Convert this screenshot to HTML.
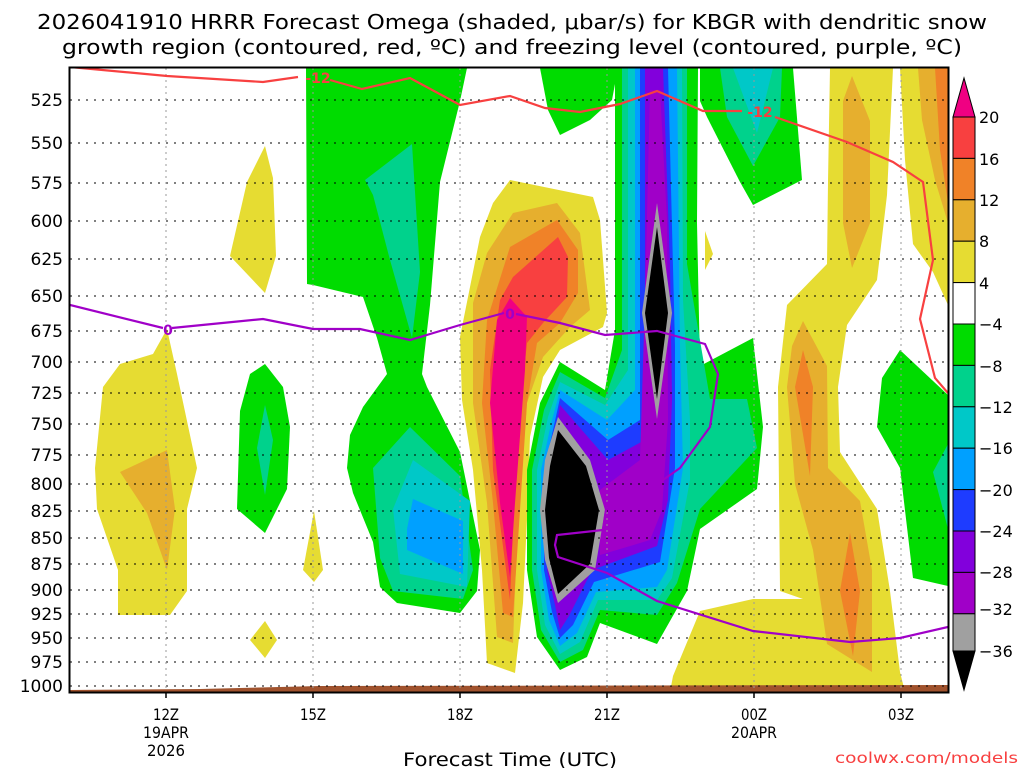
<!DOCTYPE html>
<html><head><meta charset="utf-8"><style>
html,body{margin:0;padding:0;background:#fff;width:1024px;height:768px;overflow:hidden}
svg{display:block}
text{font-family:"DejaVu Sans","Liberation Sans",sans-serif;fill:#000}
</style></head><body>
<svg width="1024" height="768" viewBox="0 0 1024 768" xmlns="http://www.w3.org/2000/svg">
<rect width="1024" height="768" fill="#fff"/>
<text x="512" y="29" font-size="20" text-anchor="middle" textLength="950" lengthAdjust="spacingAndGlyphs">2026041910 HRRR Forecast Omega (shaded, μbar/s) for KBGR with dendritic snow</text>
<text x="512" y="54" font-size="20" text-anchor="middle" textLength="900" lengthAdjust="spacingAndGlyphs">growth region (contoured, red, ºC) and freezing level (contoured, purple, ºC)</text>
<defs><clipPath id="pc"><rect x="70" y="68" width="878" height="624"/></clipPath></defs>
<g clip-path="url(#pc)" stroke-linejoin="round">
<!-- left yellow -->
<polygon fill="#e6dc32" points="95,468 103,387 120,364 153,354 167,329 177,374 197,468 187,509 187,591 170,615 118,615 118,570 97,509"/>
<polygon fill="#e6af2e" points="120,472 167,450 175,509 167,570 147,513"/>
<polygon fill="#e6dc32" points="265,146 273,178 276,256 265,293 230,256 247,182"/>
<polygon fill="#00dc00" points="265,364 283,387 290,427 287,489 265,533 237,509 240,411 250,374"/>
<polygon fill="#00d28c" points="265,405 273,440 265,495 257,448"/>
<polygon fill="#e6dc32" points="314,511 323,570 314,582 303,570"/>
<polygon fill="#e6dc32" points="265,621 277,640 265,658 250,640"/>
<!-- left green region -->
<polygon fill="#00dc00" points="306,68 467,68 460,101 440,182 430,305 422,374 427,387 460,452 480,550 477,591 460,613 397,603 380,587 373,542 353,493 347,468 350,435 363,407 387,374 377,338 363,297 313,285 307,284"/>
<polygon fill="#00d28c" points="365,180 412,144 420,272 412,338 390,260 373,195"/>
<polygon fill="#00d28c" points="373,468 410,427 460,476 473,570 463,599 393,591 380,558"/>
<polygon fill="#00c8c8" points="393,509 413,460 470,501 467,587 400,574"/>
<polygon fill="#00a0ff" points="407,529 413,499 463,521 463,574 407,550"/>
<!-- positive blob -->
<polygon fill="#e6dc32" points="510,180 593,197 600,220 607,313 603,327 560,350 543,377 530,437 527,520 523,603 515,673 487,663 482,570 473,470 462,400 460,337 480,237 493,203"/>
<polygon fill="#e6af2e" points="513,213 557,203 580,233 590,310 570,327 543,357 527,403 517,537 513,643 497,637 487,503 473,403 473,303 487,253"/>
<polygon fill="#f08228" points="510,247 557,220 578,250 578,293 560,323 537,343 527,403 513,617 503,613 493,503 482,403 487,320"/>
<polygon fill="#f84040" points="513,277 558,237 568,257 567,297 543,323 527,343 517,437 510,600 493,470 490,370 500,300"/>
<polygon fill="#f00082" points="510,298 527,317 525,370 515,503 510,577 500,503 490,403 497,320"/>
<!-- top green blob -->
<polygon fill="#00dc00" points="540,68 618,68 612,100 590,120 560,135 548,110"/>
<!-- green right of column -->
<polygon fill="#00dc00" points="700,68 793,68 802,180 753,205 740,182 707,117 700,101"/>
<polygon fill="#00d28c" points="720,68 782,68 780,117 753,166 727,117"/>
<polygon fill="#00c8c8" points="733,68 773,68 757,133"/>
<polygon fill="#e6dc32" points="705,231 713,254 705,270"/>
<!-- right yellow band -->
<polygon fill="#e6dc32" points="830,68 893,68 887,195 877,280 847,325 838,387 840,452 877,509 890,591 900,672 905,692 670,692 673,676 700,611 753,599 803,599 780,591 778,387 787,305 827,264 828,182"/>
<polygon fill="#e6af2e" points="852,76 870,121 870,223 852,268 843,223 843,101"/>
<polygon fill="#e6af2e" points="803,321 827,366 828,468 860,501 872,570 872,672 827,644 813,550 795,484 787,387 792,346"/>
<polygon fill="#f08228" points="803,350 813,387 810,476 795,387"/>
<polygon fill="#f08228" points="850,533 860,591 853,656 840,591"/>
<polygon fill="#e6dc32" points="900,68 948,68 948,305 933,272 913,244 905,160"/>
<polygon fill="#e6af2e" points="918,68 948,68 948,223 935,180 922,120"/>
<polygon fill="#f08228" points="935,68 948,68 948,203 940,150"/>
<polygon fill="#00dc00" points="900,350 948,395 948,586 913,578 900,468 877,427 882,378"/>
<polygon fill="#00d28c" points="948,444 933,472 948,529"/>
<!-- column + lower lens -->
<polygon fill="#00dc00" points="615,68 698,68 697,223 700,366 753,338 763,427 757,489 700,529 687,591 657,644 600,623 587,657 560,670 537,637 527,570 527,470 540,403 560,362 605,390 615,330"/>
<polygon fill="#00d28c" points="622,68 687,68 687,264 710,399 747,399 757,448 700,509 677,583 657,615 600,610 583,650 560,662 541,630 532,570 532,470 544,410 560,372 605,398 622,350"/>
<polygon fill="#00c8c8" points="628,68 682,68 683,300 690,420 690,480 672,578 657,600 598,600 580,642 560,654 545,625 537,570 537,470 548,417 560,382 605,405 628,370"/>
<polygon fill="#00a0ff" points="635,68 677,68 680,346 683,468 667,570 657,587 596,592 577,633 560,646 549,620 541,570 541,470 551,424 560,390 607,420 635,390"/>
<polygon fill="#1e3cff" points="640,68 668,68 675,346 675,468 660,562 594,582 573,625 560,638 552,612 544,570 544,470 553,430 560,398 608,440 640,420"/>
<polygon fill="#8200dc" points="645,68 663,68 670,264 672,400 668,500 657,546 592,570 569,616 560,630 555,605 547,570 547,470 555,436 560,405 608,460 645,440"/>
<polygon fill="#a000c8" points="650,90 660,90 667,220 668,420 662,510 650,540 600,555 600,490 640,460 645,300"/>
<polygon fill="#a0a0a0" points="657,203 672,313 657,419 642,313"/>
<polygon fill="#000" points="657,227 668,313 657,399 645,313"/>
<polygon fill="#a0a0a0" points="558,417 590,460 605,510 595,570 558,603 545,560 540,510 545,460"/>
<polygon fill="#000" points="558,430 586,466 599,510 590,564 558,594 549,558 545,510 550,466"/>
<!-- ground -->
<polygon fill="#a0522d" points="70,690 200,689 320,686 948,685 948,693 70,693"/>
</g>
<!-- grid -->
<g stroke="#000" stroke-width="1" stroke-dasharray="2,6">
<line x1="70" x2="948" y1="100" y2="100"/><line x1="70" x2="948" y1="143" y2="143"/><line x1="70" x2="948" y1="183" y2="183"/><line x1="70" x2="948" y1="221" y2="221"/><line x1="70" x2="948" y1="259" y2="259"/><line x1="70" x2="948" y1="296" y2="296"/><line x1="70" x2="948" y1="331" y2="331"/><line x1="70" x2="948" y1="362" y2="362"/><line x1="70" x2="948" y1="393" y2="393"/><line x1="70" x2="948" y1="424" y2="424"/><line x1="70" x2="948" y1="455" y2="455"/><line x1="70" x2="948" y1="484" y2="484"/><line x1="70" x2="948" y1="511" y2="511"/><line x1="70" x2="948" y1="538" y2="538"/><line x1="70" x2="948" y1="564" y2="564"/><line x1="70" x2="948" y1="590" y2="590"/><line x1="70" x2="948" y1="614" y2="614"/><line x1="70" x2="948" y1="638" y2="638"/><line x1="70" x2="948" y1="662" y2="662"/><line x1="70" x2="948" y1="686" y2="686"/>
</g>
<g stroke="#999" stroke-width="1" stroke-dasharray="2,4">
<line x1="166" x2="166" y1="68" y2="692"/><line x1="313" x2="313" y1="68" y2="692"/><line x1="460" x2="460" y1="68" y2="692"/><line x1="607" x2="607" y1="68" y2="692"/><line x1="754" x2="754" y1="68" y2="692"/><line x1="901" x2="901" y1="68" y2="692"/>
</g>
<!-- contour lines -->
<g fill="none" stroke-width="2.2" clip-path="url(#pc)">
<polyline stroke="#f84040" points="70,67 167,76 263,82 298,77"/>
<polyline stroke="#f84040" points="330,80 362,89 410,78 460,105 510,96 545,108 580,112 620,104 657,91 703,111 742,111"/>
<polyline stroke="#f84040" points="775,117 847,142 893,162 923,182 933,260 920,319 935,378 948,393"/>
<polyline stroke="#a000c8" points="70,305 163,328"/>
<polyline stroke="#a000c8" points="172,328 263,319 313,329 360,329 410,340 460,325 504,313"/>
<polyline stroke="#a000c8" points="516,314 560,323 605,335 657,331 705,344 718,374 710,427 680,468 660,482 607,503 603,530 557,535 555,545 558,557 607,573 657,601 753,631 850,642 900,638 948,627"/>
</g>
<text x="318" y="83" font-size="14" font-weight="bold" fill="#f84040" style="fill:#f84040" text-anchor="middle">-12</text>
<text x="760" y="117" font-size="14" font-weight="bold" style="fill:#f84040" text-anchor="middle">-12</text>
<text x="168" y="335" font-size="14" font-weight="bold" style="fill:#a000c8" text-anchor="middle">0</text>
<text x="510" y="319" font-size="14" font-weight="bold" style="fill:#a000c8" text-anchor="middle">0</text>
<!-- frame -->
<rect x="69.5" y="67.5" width="879" height="625" fill="none" stroke="#000" stroke-width="2"/>
<g stroke="#000" stroke-width="1.5">
<line x1="166" x2="166" y1="692" y2="698"/><line x1="313" x2="313" y1="692" y2="698"/><line x1="460" x2="460" y1="692" y2="698"/><line x1="607" x2="607" y1="692" y2="698"/><line x1="754" x2="754" y1="692" y2="698"/><line x1="901" x2="901" y1="692" y2="698"/>
</g>
<!-- y labels -->
<g font-size="17" text-anchor="end">
<text x="63" y="106">525</text><text x="63" y="149">550</text><text x="63" y="189">575</text><text x="63" y="227">600</text><text x="63" y="265">625</text><text x="63" y="302">650</text><text x="63" y="337">675</text><text x="63" y="368">700</text><text x="63" y="399">725</text><text x="63" y="430">750</text><text x="63" y="461">775</text><text x="63" y="490">800</text><text x="63" y="517">825</text><text x="63" y="544">850</text><text x="63" y="570">875</text><text x="63" y="596">900</text><text x="63" y="620">925</text><text x="63" y="644">950</text><text x="63" y="668">975</text><text x="63" y="692">1000</text>
</g>
<g font-size="16" text-anchor="middle">
<text x="166" y="720" textLength="26" lengthAdjust="spacingAndGlyphs">12Z</text>
<text x="166" y="738" textLength="46" lengthAdjust="spacingAndGlyphs">19APR</text>
<text x="166" y="756" textLength="38" lengthAdjust="spacingAndGlyphs">2026</text>
<text x="313" y="720" textLength="26" lengthAdjust="spacingAndGlyphs">15Z</text>
<text x="460" y="720" textLength="26" lengthAdjust="spacingAndGlyphs">18Z</text>
<text x="607" y="720" textLength="26" lengthAdjust="spacingAndGlyphs">21Z</text>
<text x="754" y="720" textLength="26" lengthAdjust="spacingAndGlyphs">00Z</text>
<text x="754" y="738" textLength="46" lengthAdjust="spacingAndGlyphs">20APR</text>
<text x="901" y="720" textLength="26" lengthAdjust="spacingAndGlyphs">03Z</text>
<text x="510" y="766" font-size="19" textLength="214" lengthAdjust="spacingAndGlyphs">Forecast Time (UTC)</text>
</g>
<text x="1018" y="763" font-size="15" text-anchor="end" style="fill:#f84040" textLength="183" lengthAdjust="spacingAndGlyphs">coolwx.com/models</text>
<!-- colorbar -->
<g stroke="#000" stroke-width="1">
<polygon points="964,78 953,117 975,117" fill="#f00082"/>
<rect x="953" y="117" width="22" height="41.4" fill="#f84040"/>
<rect x="953" y="158.4" width="22" height="41.4" fill="#f08228"/>
<rect x="953" y="199.8" width="22" height="41.4" fill="#e6af2e"/>
<rect x="953" y="241.2" width="22" height="41.4" fill="#e6dc32"/>
<rect x="953" y="282.6" width="22" height="41.4" fill="#fff"/>
<rect x="953" y="324" width="22" height="41.4" fill="#00dc00"/>
<rect x="953" y="365.4" width="22" height="41.4" fill="#00d28c"/>
<rect x="953" y="406.8" width="22" height="41.4" fill="#00c8c8"/>
<rect x="953" y="448.2" width="22" height="41.4" fill="#00a0ff"/>
<rect x="953" y="489.6" width="22" height="41.4" fill="#1e3cff"/>
<rect x="953" y="531" width="22" height="41.4" fill="#8200dc"/>
<rect x="953" y="572.4" width="22" height="41.4" fill="#a000c8"/>
<rect x="953" y="613.8" width="22" height="37.2" fill="#a0a0a0"/>
<polygon points="953,651 975,651 964,690" fill="#000"/>
</g>
<g font-size="16">
<text x="979" y="123">20</text><text x="979" y="165">16</text><text x="979" y="206">12</text><text x="979" y="247">8</text><text x="979" y="289">4</text><text x="979" y="330">−4</text><text x="979" y="372">−8</text><text x="979" y="413">−12</text><text x="979" y="454">−16</text><text x="979" y="496">−20</text><text x="979" y="537">−24</text><text x="979" y="578">−28</text><text x="979" y="615">−32</text><text x="979" y="657">−36</text>
</g>
</svg>
</body></html>
